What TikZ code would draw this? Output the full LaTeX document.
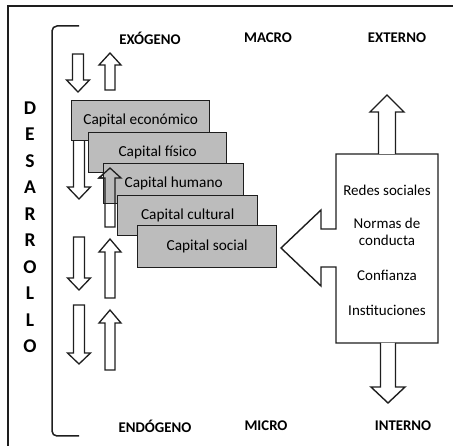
\documentclass[tikz,border=0pt]{standalone}
\usepackage{fontspec}
\setmainfont{Carlito}
\definecolor{boxgray}{RGB}{188,188,188}
\definecolor{inkc}{RGB}{30,30,30}
\newcommand{\upblk}[4]{% cx, bottom, headbase, tip
  \draw[blk] (#1-5,#2) -- (#1-5,#3) -- (#1-11,#3) -- (#1,#4) -- (#1+11,#3) -- (#1+5,#3) -- (#1+5,#2) -- cycle;}
\newcommand{\downblk}[4]{% cx, top, headbase, tip
  \draw[blk] (#1-5.5,#2) -- (#1-5.5,#3) -- (#1-11.5,#3) -- (#1,#4) -- (#1+11.5,#3) -- (#1+5.5,#3) -- (#1+5.5,#2) -- cycle;}
\begin{document}
\begin{tikzpicture}[x=1pt,y=-1pt,
  blk/.style={draw=inkc,line width=1.3pt,fill=white,line join=miter},
  capbox/.style={draw=inkc,line width=1.4pt,fill=boxgray,anchor=north west,
    minimum width=138pt,minimum height=40pt,inner sep=0pt,
    font=\fontsize{15.3}{17}\selectfont},
  head/.style={font=\fontsize{14.8}{16}\selectfont\bfseries},
  vlet/.style={font=\fontsize{19.5}{20}\selectfont\bfseries},
  rtxt/.style={font=\fontsize{15}{17}\selectfont,align=center}]
\useasboundingbox (0,0) rectangle (453,446);
% frame
\draw[inkc,line width=1.3pt] (8,446) -- (8,6) -- (453,6);
% bracket
\draw[inkc,line width=1.5pt,rounded corners=5pt] (79,26) -- (52,26) -- (52,436) -- (79,436);
% DESARROLLO
\foreach \l [count=\i from 0] in {D,E,S,A,R,R,O,L,L,O}
  \node[vlet] (v\i) at (30,{108+26.5*\i}) {\l};
% headers
\node[head] (exo) at (150,38) {EXÓGENO};
\node[head] (mac) at (268,38) {MACRO};
\node[head] (ext) at (397,38) {EXTERNO};
\node[head] (endo) at (155,426) {ENDÓGENO};
\node[head] (mic) at (266,426) {MICRO};
\node[head] (int) at (403,426) {INTERNO};
% left block arrows
\downblk{78}{54}{80}{92}
\upblk{110}{90}{65}{53}
\downblk{79}{130}{187}{199}
\upblk{110}{227}{178}{168}
\downblk{79}{237}{278}{290}
\upblk{110}{298}{252}{239}
\downblk{79}{305}{353}{364}
\upblk{110}{370}{323}{310}
% capital boxes
\node[capbox] (eco) at (71,100) {Capital económico};
\node[capbox] (fis) at (88,132) {Capital físico};
\node[capbox,minimum width=140pt] (hum) at (103,163) {Capital humano};
\node[capbox,minimum width=140pt] (cul) at (117,195) {Capital cultural};
\node[capbox,minimum width=139pt,minimum height=42pt] (soc) at (137,225) {Capital social};
% up arrow outline over the humano box
\draw[inkc,line width=1.3pt,line join=miter] (105,203) -- (105,178) -- (99,178) -- (110,168) -- (121,178) -- (115,178) -- (115,203);
% right box with left arrow
\draw[inkc,line width=1.4pt,fill=white,line join=miter]
  (336,154) -- (438,154) -- (438,343) -- (336,343) -- (336,267) -- (321,267)
  -- (321,286) -- (281,248) -- (321,210) -- (321,229) -- (336,229) -- cycle;
\node[rtxt] (redes) at (387,190) {Redes sociales};
\node[rtxt] (normas) at (387,231.5) {Normas de\\conducta};
\node[rtxt] (conf) at (387,275) {Confianza};
\node[rtxt] (inst) at (387,310) {Instituciones};
% right arrows
\draw[blk,line width=1.4pt] (378.5,154) -- (378.5,112) -- (370,112) -- (387,95) -- (404,112) -- (395.5,112) -- (395.5,154);
\draw[blk,line width=1.4pt] (380.5,343) -- (380.5,387) -- (371,387) -- (388,403) -- (405,387) -- (395.5,387) -- (395.5,343);
\end{tikzpicture}
\end{document}
